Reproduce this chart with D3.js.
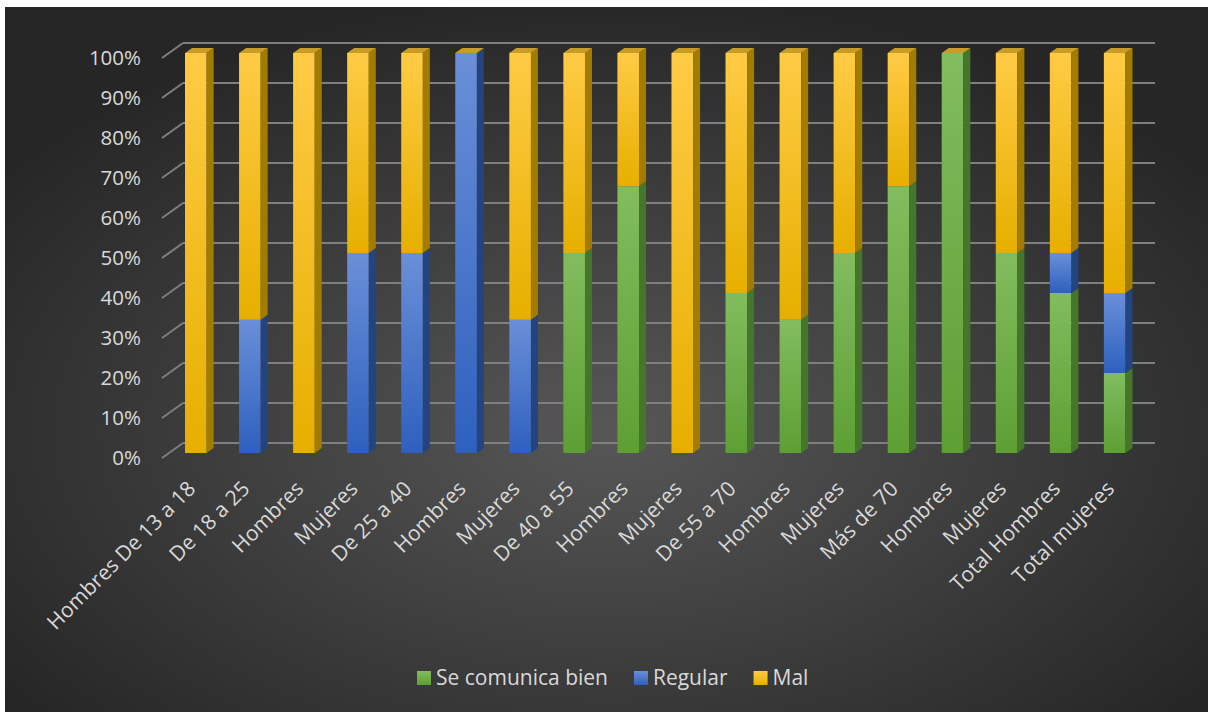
<!DOCTYPE html>
<html>
<head>
    <meta charset="utf-8" />
    <title>Comunicación por edad y sexo</title>
    <style>
        body { margin: 0; background: #fff; }
        text { font-family: "Open Sans", sans-serif; fill: #d9d9d9; }
    </style>
    <script src="https://cdn.jsdelivr.net/npm/d3@7"></script>
</head>
<body>
    <div id="chart"></div>

    <script>
        // categorias del eje X (hay nombres repetidos, por eso se usa el indice)
        var categories = ['Hombres De 13 a 18', 'De 18 a 25', 'Hombres', 'Mujeres', 'De 25 a 40',
            'Hombres', 'Mujeres', 'De 40 a 55', 'Hombres', 'Mujeres', 'De 55 a 70', 'Hombres',
            'Mujeres', 'Más de 70', 'Hombres', 'Mujeres', 'Total Hombres', 'Total mujeres'];

        var seriesNames = ['Se comunica bien', 'Regular', 'Mal'];

        var bien    = [0, 0, 0, 0, 0, 0, 0, 0.5, 0.667, 0, 0.4, 0.333, 0.5, 0.667, 1, 0.5, 0.4, 0.2];
        var regular = [0, 0.333, 0, 0.5, 0.5, 1, 0.333, 0, 0, 0, 0, 0, 0, 0, 0, 0, 0.1, 0.2];
        var mal     = [1, 0.667, 1, 0.5, 0.5, 0, 0.667, 0.5, 0.333, 1, 0.6, 0.667, 0.5, 0.333, 0, 0.5, 0.5, 0.6];

        var yTicks = [0, 0.1, 0.2, 0.3, 0.4, 0.5, 0.6, 0.7, 0.8, 0.9, 1];

        var width = 1208,
            height = 712;

        // colores: cara frontal (arriba/abajo), lateral y superior
        var colors = [
            { top: '#82bc5f', bottom: '#5e9f34', side: '#46752c', cap: '#9bc77a' },
            { top: '#6b8fd8', bottom: '#2e60be', side: '#23447f', cap: '#8aa6e0' },
            { top: '#ffcb45', bottom: '#e6af00', side: '#a27c00', cap: '#c99c28' }
        ];

        var depthX = 7, depthY = 5;        // profundidad de las barras
        var floorX = 21, floorFront = 5, floorBack = 10;

        var svg = d3.select('#chart')
            .append('svg')
            .attr('width', width)
            .attr('height', height);

        var defs = svg.append('defs');

        var bg = defs.append('radialGradient')
            .attr('id', 'bg')
            .attr('cx', '50%').attr('cy', '60%').attr('r', '62%');
        bg.append('stop').attr('offset', '0%').attr('stop-color', '#575757');
        bg.append('stop').attr('offset', '100%').attr('stop-color', '#262626');

        colors.forEach(function(c, i) {
            var g = defs.append('linearGradient')
                .attr('id', 'grad' + i)
                .attr('x1', 0).attr('y1', 0).attr('x2', 0).attr('y2', 1);
            g.append('stop').attr('offset', '0%').attr('stop-color', c.top);
            g.append('stop').attr('offset', '100%').attr('stop-color', c.bottom);
        });

        svg.append('rect')
            .attr('x', 5).attr('y', 7)
            .attr('width', width - 5).attr('height', height - 7)
            .attr('fill', 'url(#bg)');

        var x = d3.scaleBand()
            .domain(d3.range(categories.length))
            .range([168.8, 1141.7])
            .paddingInner(0.6)
            .paddingOuter(0.3);

        var y = d3.scaleLinear()
            .domain([0, 1])
            .range([453, 53]);

        // lineas de la cuadricula (pared del fondo + diagonal del suelo)
        var grid = svg.append('g');
        grid.selectAll('.back')
            .data(yTicks)
            .enter()
            .append('line')
            .attr('x1', 183).attr('x2', 1155)
            .attr('y1', d => y(d) - floorBack)
            .attr('y2', d => y(d) - floorBack)
            .attr('stroke', '#7f7f7f')
            .attr('stroke-width', 2);
        grid.selectAll('.diag')
            .data(yTicks)
            .enter()
            .append('line')
            .attr('x1', 183 - floorX).attr('y1', d => y(d) + floorFront)
            .attr('x2', 183).attr('y2', d => y(d) - floorBack)
            .attr('stroke', '#7f7f7f')
            .attr('stroke-width', 2);

        // eje Y
        var yAxis = d3.axisLeft(y)
            .tickValues(yTicks)
            .tickFormat(d3.format('.0%'))
            .tickSize(0)
            .tickPadding(0);

        var gY = svg.append('g')
            .attr('transform', 'translate(141, ' + floorFront + ')')
            .call(yAxis);
        gY.select('.domain').remove();
        gY.selectAll('text')
            .attr('font-size', 20.5)
            .attr('font-family', '"Open Sans", sans-serif')
            .attr('fill', '#d9d9d9');

        // apilado
        var rows = categories.map(function(c, i) {
            return { bien: bien[i], regular: regular[i], mal: mal[i] };
        });
        var stack = d3.stack().keys(['bien', 'regular', 'mal'])(rows);

        var bw = x.bandwidth();
        var bars = svg.append('g');

        stack.forEach(function(layer, s) {
            layer.forEach(function(d, i) {
                var x0 = x(i), y0 = y(d[0]), y1 = y(d[1]);
                if (d[1] - d[0] > 0.0001) {
                    bars.append('rect')
                        .attr('x', x0).attr('y', y1)
                        .attr('width', bw).attr('height', y0 - y1)
                        .attr('fill', 'url(#grad' + s + ')');
                    bars.append('path')
                        .attr('d', 'M' + (x0 + bw) + ',' + y1 +
                            'L' + (x0 + bw + depthX) + ',' + (y1 - depthY) +
                            'L' + (x0 + bw + depthX) + ',' + (y0 - depthY) +
                            'L' + (x0 + bw) + ',' + y0 + 'Z')
                        .attr('fill', colors[s].side);
                }
            });
        });

        // cara superior (la dibuja la ultima serie, aunque valga 0)
        stack[stack.length - 1].forEach(function(d, i) {
            var x0 = x(i), yt = y(d[1]);
            bars.append('path')
                .attr('d', 'M' + x0 + ',' + yt +
                    'L' + (x0 + depthX) + ',' + (yt - depthY) +
                    'L' + (x0 + bw + depthX) + ',' + (yt - depthY) +
                    'L' + (x0 + bw) + ',' + yt + 'Z')
                .attr('fill', colors[2].cap);
        });

        // etiquetas del eje X
        svg.append('g')
            .selectAll('text')
            .data(categories)
            .enter()
            .append('text')
            .attr('transform', (d, i) => 'translate(' + (x(i) + bw / 2 + 1) + ',' + 490 + ') rotate(-45)')
            .attr('text-anchor', 'end')
            .attr('font-size', 21)
            .text(d => d);

        // leyenda
        var legend = svg.append('g');
        var lx = 417;
        seriesNames.forEach(function(name, i) {
            legend.append('rect')
                .attr('x', lx).attr('y', 671)
                .attr('width', 14).attr('height', 14)
                .attr('fill', 'url(#grad' + i + ')');
            var t = legend.append('text')
                .attr('x', lx + 19).attr('y', 685)
                .attr('font-size', 21)
                .text(name);
            lx += 19 + t.node().getComputedTextLength() + 26;
        });
    </script>
</body>
</html>
